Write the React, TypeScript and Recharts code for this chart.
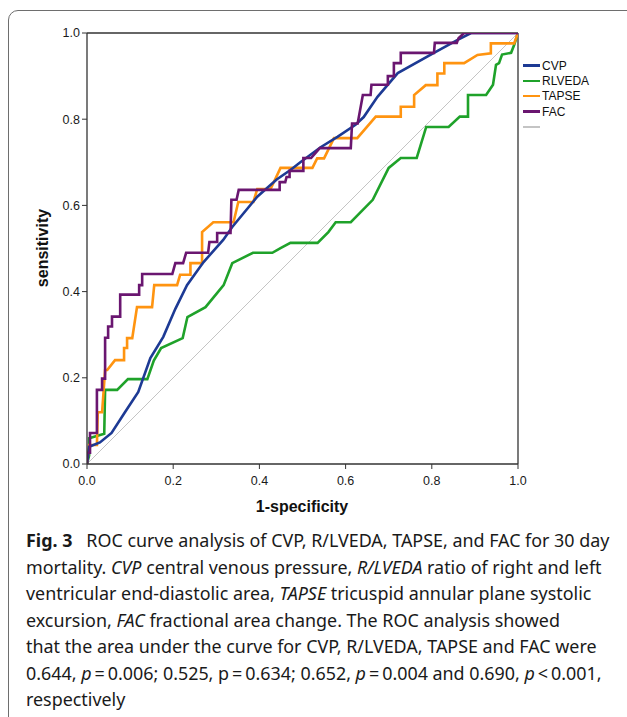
import { LineChart, Line, XAxis, YAxis, Legend, ReferenceLine } from 'recharts';

// ROC points, [1-specificity, sensitivity]
const cvpPoints: [number, number][] = [
  [0, 0], [0.005, 0.04], [0.03, 0.05], [0.057, 0.072], [0.088, 0.12], [0.119, 0.167],
  [0.147, 0.246], [0.177, 0.295], [0.205, 0.36], [0.232, 0.415], [0.27, 0.468],
  [0.316, 0.52], [0.337, 0.55], [0.395, 0.62], [0.44, 0.66], [0.472, 0.682],
  [0.495, 0.7], [0.542, 0.735], [0.581, 0.759], [0.623, 0.787], [0.642, 0.805],
  [0.674, 0.852], [0.721, 0.907], [0.805, 0.954], [0.86, 0.984], [0.891, 1], [1, 1],
];

const rlvedaPoints: [number, number][] = [
  [0, 0], [0.005, 0.02], [0.005, 0.06], [0.04, 0.07], [0.042, 0.172], [0.07, 0.172],
  [0.095, 0.197], [0.14, 0.197], [0.155, 0.24], [0.172, 0.269], [0.222, 0.292],
  [0.233, 0.341], [0.275, 0.364], [0.317, 0.415], [0.337, 0.466], [0.385, 0.49],
  [0.43, 0.49], [0.449, 0.501], [0.472, 0.513], [0.535, 0.513], [0.56, 0.538],
  [0.577, 0.561], [0.612, 0.561], [0.663, 0.613], [0.7, 0.687], [0.728, 0.71],
  [0.765, 0.71], [0.787, 0.782], [0.839, 0.782], [0.865, 0.806], [0.884, 0.806],
  [0.884, 0.856], [0.926, 0.856], [0.942, 0.88], [0.949, 0.926], [0.956, 0.93],
  [0.963, 0.95], [0.984, 0.954], [0.991, 0.972], [1, 1],
];

const tapsePoints: [number, number][] = [
  [0, 0], [0.005, 0.044], [0.023, 0.044], [0.025, 0.12], [0.035, 0.12], [0.042, 0.218],
  [0.047, 0.218], [0.065, 0.241], [0.086, 0.241], [0.086, 0.269], [0.093, 0.269],
  [0.093, 0.292], [0.105, 0.292], [0.116, 0.364], [0.151, 0.364], [0.156, 0.415],
  [0.209, 0.415], [0.216, 0.439], [0.24, 0.439], [0.24, 0.466], [0.267, 0.466],
  [0.267, 0.538], [0.293, 0.561], [0.34, 0.561], [0.351, 0.608], [0.386, 0.608],
  [0.395, 0.638], [0.426, 0.638], [0.449, 0.687], [0.523, 0.687], [0.534, 0.709],
  [0.55, 0.709], [0.573, 0.756], [0.627, 0.756], [0.67, 0.806], [0.728, 0.806],
  [0.728, 0.829], [0.759, 0.829], [0.759, 0.856], [0.786, 0.879], [0.813, 0.879],
  [0.813, 0.906], [0.829, 0.906], [0.829, 0.93], [0.875, 0.93], [0.906, 0.949],
  [0.937, 0.953], [0.937, 0.976], [0.991, 0.976], [1, 1],
];

const facPoints: [number, number][] = [
  [0, 0], [0, 0.026], [0.007, 0.026], [0.007, 0.072], [0.023, 0.072], [0.023, 0.172],
  [0.035, 0.172], [0.035, 0.198], [0.042, 0.198], [0.042, 0.293], [0.049, 0.293],
  [0.049, 0.319], [0.058, 0.319], [0.058, 0.342], [0.077, 0.342], [0.077, 0.393],
  [0.121, 0.393], [0.121, 0.415], [0.128, 0.415], [0.128, 0.441], [0.198, 0.441],
  [0.205, 0.466], [0.223, 0.466], [0.23, 0.49], [0.281, 0.49], [0.284, 0.515],
  [0.302, 0.515], [0.302, 0.536], [0.333, 0.536], [0.335, 0.613], [0.347, 0.613],
  [0.352, 0.636], [0.447, 0.636], [0.447, 0.654], [0.46, 0.654], [0.463, 0.666],
  [0.47, 0.666], [0.47, 0.68], [0.502, 0.68], [0.502, 0.71], [0.52, 0.71],
  [0.54, 0.733], [0.612, 0.733], [0.615, 0.79], [0.628, 0.79], [0.64, 0.856],
  [0.658, 0.856], [0.66, 0.88], [0.698, 0.88], [0.698, 0.9], [0.712, 0.9],
  [0.712, 0.93], [0.728, 0.93], [0.728, 0.954], [0.805, 0.954], [0.807, 0.977],
  [0.858, 0.977], [0.862, 0.988], [0.875, 1], [1, 1],
];

const diagonalPoints: [number, number][] = [[0, 0], [1, 1]];

const axisTicks = [0, 0.2, 0.4, 0.6, 0.8, 1];

const SERIES = [
  { name: 'CVP', color: '#1d3a94', points: cvpPoints },
  { name: 'RLVEDA', color: '#1fa22a', points: rlvedaPoints },
  { name: 'TAPSE', color: '#ff9410', points: tapsePoints },
  { name: 'FAC', color: '#6a1670', points: facPoints },
  { name: '', color: '#c4c4c4', points: diagonalPoints },
];

// drawing order: diagonal underneath, FAC on top
const DRAW_ORDER = [4, 1, 2, 0, 3];

const toRows = (pts: [number, number][]) => pts.map(([x, y]) => ({ x, y }));

const AXIS_FONT = 'Arial, "Liberation Sans", sans-serif';
const TEXT_FONT = '"Noto Sans", "Open Sans", sans-serif';

function RocLegend() {
  return (
    <div style={{ fontFamily: AXIS_FONT, fontSize: 12, color: '#111' }}>
      {SERIES.map((s, i) => (
        <div key={i} style={{ height: 15.3, display: 'flex', alignItems: 'center' }}>
          <span
            style={{
              display: 'inline-block',
              width: 17,
              height: s.name ? 2.5 : 1.5,
              background: s.color,
              marginRight: 2,
            }}
          />
          <span>{s.name}</span>
        </div>
      ))}
    </div>
  );
}

export default function App() {
  return (
    <div
      style={{
        position: 'absolute',
        left: 0,
        top: 0,
        width: 627,
        height: 717,
        overflow: 'hidden',
        background: '#fff',
      }}
    >
      <div
        style={{
          position: 'absolute',
          left: 8,
          top: 10,
          width: 700,
          height: 800,
          border: '1.3px solid #6e6e6e',
          borderRadius: 10,
        }}
      />
      <div style={{ position: 'absolute', left: 0, top: 0 }}>
        <LineChart width={627} height={530} margin={{ top: 33, right: 109, bottom: 36, left: 47 }}>
          <XAxis
            dataKey="x"
            type="number"
            domain={[0, 1]}
            ticks={axisTicks}
            tickFormatter={(v: number) => v.toFixed(1)}
            tick={{ fontSize: 12.5, fill: '#1a1a1a', fontFamily: AXIS_FONT }}
            tickLine={{ stroke: '#333' }}
            tickSize={5}
            tickMargin={7}
            axisLine={{ stroke: '#333', strokeWidth: 1.3 }}
            height={30}
            allowDataOverflow
            label={{
              content: () => (
                <text x={302} y={512} textAnchor="middle" fontFamily={AXIS_FONT} fontSize={16} fontWeight="bold" fill="#111">
                  1-specificity
                </text>
              ),
            }}
          />
          <YAxis
            type="number"
            domain={[0, 1]}
            ticks={axisTicks}
            tickFormatter={(v: number) => v.toFixed(1)}
            tick={{ fontSize: 12.5, fill: '#1a1a1a', fontFamily: AXIS_FONT }}
            tickLine={{ stroke: '#333' }}
            tickSize={5}
            axisLine={{ stroke: '#333', strokeWidth: 1.3 }}
            width={40}
            allowDataOverflow
            label={{
              content: () => (
                <text
                  x={48}
                  y={248}
                  transform="rotate(-90 48 248)"
                  textAnchor="middle"
                  fontFamily={AXIS_FONT}
                  fontSize={16}
                  fontWeight="bold"
                  fill="#111"
                >
                  sensitivity
                </text>
              ),
            }}
          />
          <ReferenceLine y={1} stroke="#333" strokeWidth={1.3} />
          <ReferenceLine x={1} stroke="#333" strokeWidth={1.3} />
          {DRAW_ORDER.map((i) => {
            const s = SERIES[i];
            return (
              <Line
                key={i}
                data={toRows(s.points)}
                dataKey="y"
                name={s.name}
                type="linear"
                stroke={s.color}
                strokeWidth={s.name ? 2.6 : 1}
                dot={false}
                activeDot={false}
                isAnimationActive={false}
              />
            );
          })}
          <Legend
            layout="vertical"
            align="center"
            verticalAlign="middle"
            wrapperStyle={{ left: 523, top: 58, width: 90 }}
            content={() => <RocLegend />}
          />
        </LineChart>
      </div>
      <div
        style={{
          position: 'absolute',
          left: 26,
          top: 527,
          fontFamily: TEXT_FONT,
          fontSize: 17.9,
          lineHeight: '26.5px',
          color: '#1a1a1a',
          whiteSpace: 'nowrap',
        }}
      >
        <div>
          <b>Fig. 3</b>&nbsp;&nbsp; ROC curve analysis of CVP, R/LVEDA, TAPSE, and FAC for 30 day
        </div>
        <div>
          mortality. <i>CVP</i> central venous pressure, <i>R/LVEDA</i> ratio of right and left
        </div>
        <div>
          ventricular end-diastolic area, <i>TAPSE</i> tricuspid annular plane systolic
        </div>
        <div>
          excursion, <i>FAC</i> fractional area change. The ROC analysis showed
        </div>
        <div>that the area under the curve for CVP, R/LVEDA, TAPSE and FAC were</div>
        <div>
          0.644, <i>p</i>&thinsp;=&thinsp;0.006; 0.525, p&thinsp;=&thinsp;0.634; 0.652, <i>p</i>&thinsp;=&thinsp;0.004 and
          0.690, <i>p</i>&thinsp;&lt;&thinsp;0.001,
        </div>
        <div>respectively</div>
      </div>
    </div>
  );
}
